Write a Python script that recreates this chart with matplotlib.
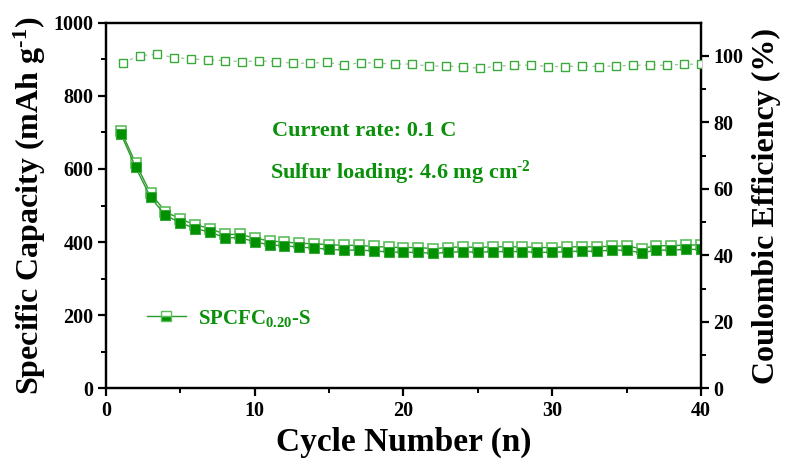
import matplotlib
matplotlib.use("Agg")
import matplotlib.pyplot as plt
from matplotlib.lines import Line2D

plt.rcParams['font.family'] = ['Liberation Serif', 'DejaVu Serif']
plt.rcParams['font.weight'] = 'bold'
plt.rcParams['mathtext.fontset'] = 'custom'
plt.rcParams['mathtext.rm'] = 'Liberation Serif:bold'
plt.rcParams['mathtext.bf'] = 'Liberation Serif:bold'
plt.rcParams['mathtext.it'] = 'Liberation Serif:bold:italic'

# ---- data ----
cycles = list(range(1, 41))
charge = [705, 615, 533, 483, 463, 447, 437, 421, 421, 411,
          403, 400, 397, 395, 393, 391, 391, 388, 386, 385,
          385, 382, 385, 387, 385, 387, 387, 387, 385, 385,
          387, 387, 387, 389, 389, 382, 390, 390, 392, 392]
discharge = [696, 604, 522, 473, 453, 437, 427, 412, 412, 401,
             392, 390, 386, 384, 380, 378, 378, 376, 373, 372,
             372, 369, 372, 374, 372, 374, 374, 374, 372, 372,
             374, 375, 375, 378, 378, 370, 378, 378, 380, 380]
ce_index = list(range(1, 36))
ce = [98.0, 100.1, 100.5, 99.5, 99.1, 98.8, 98.6, 98.3, 98.5, 98.3,
      97.8, 97.8, 98.1, 97.2, 98.0, 97.8, 97.5, 97.6, 96.9, 97.0,
      96.7, 96.3, 96.9, 97.2, 97.2, 96.8, 96.8, 97.0, 96.8, 97.0,
      97.2, 97.2, 97.2, 97.5, 97.5]

x_ticks = [0, 10, 20, 30, 40]
left_ticks = [0, 200, 400, 600, 800, 1000]
right_ticks = [0, 20, 40, 60, 80, 100]

green_text = '#0a900a'
dark_green = '#009000'
light_green = '#5cbf5c'
line_green = '#2a9a2a'

fig = plt.figure(figsize=(7.88, 4.63), dpi=100)
ax = fig.add_axes([0.1345, 0.1613, 0.8896 - 0.1345, 0.951 - 0.1613])

ax.plot(cycles, charge, '-', color=line_green, lw=1.0, marker='s', ms=7.5,
        mfc='white', mec=light_green, mew=1.2, zorder=3)
ax.plot(cycles, discharge, '-', color=line_green, lw=1.0, marker='s', ms=7.5,
        mfc=dark_green, mec='#3aa83a', mew=0.8, zorder=4)

ax.set_xlim(0, 40)
ax.set_ylim(0, 1000)
ax.set_xticks(x_ticks)
ax.set_xticks([5, 15, 25, 35], minor=True)
ax.set_yticks(left_ticks)
ax.set_yticks([100, 300, 500, 700, 900], minor=True)
ax.set_xlabel('Cycle Number (n)', fontsize=24, fontweight='bold', labelpad=4)
ax.set_ylabel('Specific Capacity (mAh g$^{\\text{-1}}$)', fontsize=23,
              fontweight='bold', labelpad=4)

for sp in ax.spines.values():
    sp.set_linewidth(1.6)
ax.tick_params(which='major', direction='out', length=6, width=1.6,
               labelsize=14.5, pad=3)
ax.tick_params(which='minor', direction='out', length=3.5, width=1.4)
for lab in ax.get_xticklabels() + ax.get_yticklabels():
    lab.set_fontweight('bold')

ax.text(11.15, 704, 'Current rate: 0.1 C', color=green_text, fontsize=16,
        fontweight='bold', va='center', ha='left')
ax.text(11.0, 589, 'Sulfur loading: 4.6 mg cm$^{\\text{-2}}$', color=green_text,
        fontsize=16, fontweight='bold', va='center', ha='left')

handle = Line2D([], [], color=line_green, lw=1.0, marker='s', ms=7.5,
                fillstyle='bottom', mfc=dark_green, mfcalt='white',
                mec=light_green, mew=1.0)
leg = ax.legend([handle], ['SPCFC$_{\\text{0.20}}$-S'], loc='center left',
                bbox_to_anchor=(0.069, 0.192), frameon=False, fontsize=15,
                handlelength=1.85, handletextpad=0.6, borderpad=0,
                borderaxespad=0)
for t in leg.get_texts():
    t.set_color(green_text)
    t.set_fontweight('bold')

# right axis
ax2 = ax.twinx()
ax2.set_ylim(0, 110)
ax2.set_yticks(right_ticks)
ax2.set_yticks([10, 30, 50, 70, 90], minor=True)
ax2.set_ylabel('Coulombic Efficiency (%)', fontsize=23, fontweight='bold',
               labelpad=6)
ax2.tick_params(which='major', direction='out', length=6, width=1.6,
                labelsize=14.5, pad=3)
ax2.tick_params(which='minor', direction='out', length=3.5, width=1.4)
for lab in ax2.get_yticklabels():
    lab.set_fontweight('bold')
for sp in ax2.spines.values():
    sp.set_linewidth(1.6)

ax3 = ax2.twiny()
ax3.set_xlim(0, 35)
ax3.xaxis.set_visible(False)
ax3.plot(ce_index, ce, linestyle=(0, (2.5, 3.5)), color='#9fbf9f', lw=0.9,
         marker='s', ms=5.5, mfc='white', mec='#3aaa3a', mew=1.0)
for sp in ax3.spines.values():
    sp.set_visible(False)

fig.savefig('out.png', dpi=100)
